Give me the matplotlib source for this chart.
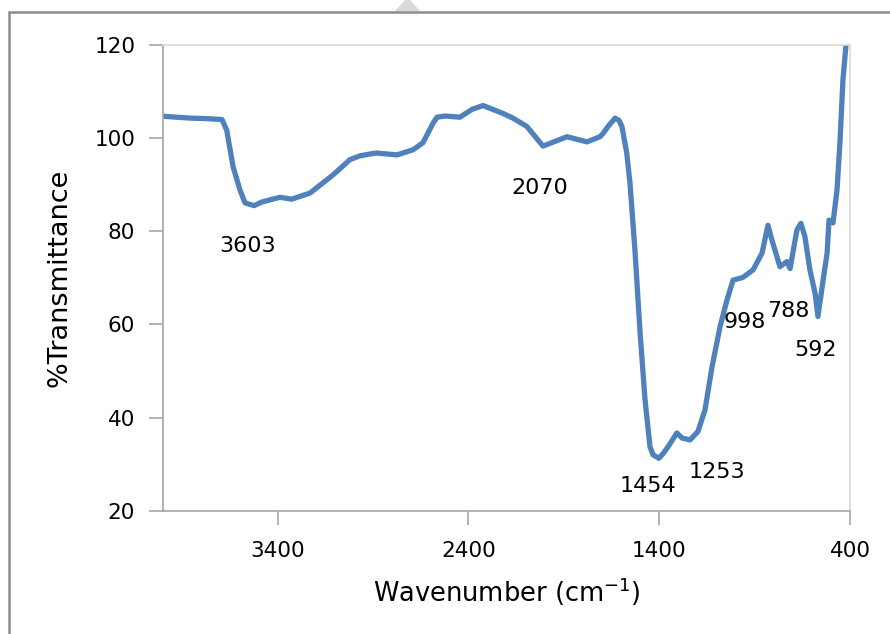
import matplotlib.pyplot as plt
from matplotlib.patches import Polygon, Rectangle

# FTIR spectrum, values
wavenumber = [4000, 3858, 3780, 3691, 3666, 3633, 3597, 3570, 3523, 3481,
              3387, 3326, 3230, 3109, 3020, 2968, 2900, 2879, 2774, 2690,
              2638, 2585, 2564, 2522, 2444, 2380, 2323, 2218, 2166, 2093,
              2009, 1883, 1778, 1710, 1694, 1668, 1631, 1610, 1595, 1570,
              1553, 1527, 1500, 1474, 1448, 1432, 1401, 1375, 1354, 1307,
              1280, 1238, 1197, 1160, 1123, 1081, 1045, 1013, 961, 908,
              861, 830, 809, 767, 730, 714, 678, 657, 636, 610,
              583, 568, 541, 520, 510, 489, 468, 452, 437, 421,
              410]
transmittance = [104.7, 104.3, 104.2, 104.0, 101.7, 93.9, 88.9, 86.1, 85.5, 86.3,
                 87.3, 86.9, 88.2, 92.1, 95.4, 96.2, 96.7, 96.8, 96.4, 97.5,
                 99.0, 103.2, 104.5, 104.75, 104.5, 106.2, 107.0, 105.3, 104.3, 102.5,
                 98.3, 100.3, 99.2, 100.3, 101.0, 102.5, 104.3, 103.8, 102.5, 96.8,
                 90.4, 76.0, 58.2, 43.8, 33.7, 32.0, 31.25, 32.5, 33.7, 36.7,
                 35.6, 35.2, 37.0, 41.6, 50.9, 59.5, 65.2, 69.5, 70.1, 71.7,
                 75.3, 81.3, 78.1, 72.4, 73.5, 72.0, 80.3, 81.7, 78.8, 71.7,
                 66.7, 61.7, 69.5, 75.3, 82.4, 81.8, 88.9, 99.6, 112.5, 120.0,
                 126.0]

peak_labels = ['3603', '2070', '1454', '1253', '998', '788', '592']
label_x = [3555, 2024, 1458, 1097, 950, 725, 578]
label_y = [76.8, 89.3, 25.3, 28.3, 60.5, 62.9, 54.5]

fig = plt.figure(figsize=(8.9, 6.34), dpi=100)
ax = fig.add_axes([163 / 890, 1 - 510.7 / 634, 687 / 890, 465.7 / 634])

ax.plot(wavenumber, transmittance, color='#4F81BD', lw=3.8,
        solid_joinstyle='round', solid_capstyle='round')

ax.set_xlim(4000, 400)
ax.set_ylim(20, 120)
ax.set_xticks([3400, 2400, 1400, 400])
ax.set_yticks([20, 40, 60, 80, 100, 120])

for s in ['top', 'right']:
    ax.spines[s].set_color('#d9d9d9')
for s in ['left', 'bottom']:
    ax.spines[s].set_color('#a6a6a6')
for s in ax.spines.values():
    s.set_linewidth(1.2)

ax.tick_params(axis='both', length=10, width=1.2, color='#a6a6a6',
               labelsize=15.5, labelcolor='black')
ax.tick_params(axis='x', pad=12)
ax.tick_params(axis='y', pad=10)

ax.set_xlabel('Wavenumber (cm$^{\\mathregular{-1}}$)', fontsize=18.5, labelpad=10)
ax.set_ylabel('%Transmittance', fontsize=19.5, labelpad=16)

for txt, xx, yy in zip(peak_labels, label_x, label_y):
    ax.text(xx, yy, txt, fontsize=16, ha='center', va='center')

# outer chart border and the small mark above it
fig.patches.append(Rectangle((9 / 890, -0.1), 1.2, 1.1 - 12 / 634,
                             transform=fig.transFigure, fill=False,
                             edgecolor='#8c8c8c', lw=1.8))
fig.patches.append(Polygon([(395 / 890, 1 - 11 / 634), (420 / 890, 1 - 11 / 634),
                            (410 / 890, 1.0), (405 / 890, 1.0)],
                           closed=True, transform=fig.transFigure,
                           facecolor='#d9d9d9', edgecolor='none'))

fig.savefig('out.png', dpi=100)
